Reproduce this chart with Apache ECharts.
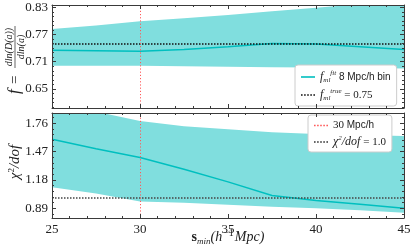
<!DOCTYPE html>
<html><head><meta charset="utf-8">
<script src="https://cdn.jsdelivr.net/npm/echarts@6/dist/echarts.min.js"></script>
<style>html,body{margin:0;padding:0;background:#fff}#c{width:415px;height:249px}</style>
</head><body><div id="c"></div>
<script>
// ---- data ----
const sMin = [25, 27.5, 30, 32.5, 35, 37.5, 40, 42.5, 45];
const fFit = [0.735, 0.734, 0.733, 0.737, 0.743, 0.750, 0.749, 0.743, 0.737];
const fUpper = [0.782, 0.790, 0.799, 0.806, 0.813, 0.821, 0.829, 0.837, 0.845];
const fLower = [0.701, 0.701, 0.701, 0.700, 0.699, 0.698, 0.697, 0.696, 0.695];
const chi2 = [1.596, 1.50, 1.41, 1.29, 1.16, 1.02, 0.97, 0.93, 0.89];
const chiUpper = [1.97, 1.88, 1.784, 1.73, 1.70, 1.67, 1.65, 1.64, 1.63];
const chiLower = [1.104, 1.04, 0.96, 0.945, 0.925, 0.905, 0.89, 0.87, 0.845];
const fTrue = 0.75;
const chiRef = 1.0;
const sCut = 30;
const xTicks = [25, 30, 35, 40, 45];
const fTicks = [0.65, 0.71, 0.77, 0.83];
const chiTicks = [0.89, 1.18, 1.47, 1.76];

// ---- helpers ----
const pairs = (ys) => sMin.map((x, i) => [x, ys[i]]);
function minorBetween(majors, nSplit, lo, hi) {
  const step = (majors[1] - majors[0]) / nSplit;
  const out = [];
  for (let v = majors[0] - step * Math.floor((majors[0] - lo) / step); v <= hi + 1e-9; v += step) {
    const r = +v.toFixed(4);
    if (r >= lo && r <= hi && !majors.some(m => Math.abs(m - r) < 1e-6)) out.push(r);
  }
  return out;
}
const FR = {min: 0.608, max: 0.835};
const CR = {min: 0.79, max: 1.866};
const fMinor = minorBetween(fTicks, 6, FR.min, FR.max);
const chiMinor = minorBetween(chiTicks, 5, CR.min, CR.max);

const BAND = '#80dede', LINE = '#00bfbf', AX = '#3a3a3a', RED = '#ff5a5a';
const serif = 'Liberation Serif';

function xAx(grid, pos, labels) {
  return {type: 'value', gridIndex: grid, position: pos, min: 25, max: 45, interval: 5, z: 10,
    axisLine: {show: true, lineStyle: {color: AX, width: 1}},
    axisTick: {show: true, inside: true, length: 4, lineStyle: {color: AX}},
    minorTick: {show: true, splitNumber: 5, length: 2, lineStyle: {color: AX}},
    splitLine: {show: false},
    axisLabel: {show: labels, color: '#222', fontFamily: serif, fontSize: 13, margin: 5,
      customValues: xTicks}};
}
function yAx(grid, pos, R, ticks, labels, minor) {
  return {type: 'value', gridIndex: grid, position: pos, min: R.min, max: R.max, z: 10,
    axisLine: {show: !minor, lineStyle: {color: AX, width: 1}},
    axisTick: {show: true, inside: true, length: minor ? 2 : 4, lineStyle: {color: AX},
      customValues: ticks},
    splitLine: {show: false},
    axisLabel: {show: labels, color: '#222', fontFamily: serif, fontSize: 13, margin: 4,
      customValues: ticks, formatter: v => v.toFixed(2)}};
}

// band polygon drawn through the axis scale (api.coord)
function bandSeries(xi, yi, hi, lo) {
  return {type: 'custom', xAxisIndex: xi, yAxisIndex: yi, clip: true, silent: true, z: 1,
    data: pairs(hi), encode: {x: 0, y: 1},
    renderItem: (params, api) => {
      if (params.dataIndex !== 0) return null;
      const pts = [];
      for (let i = 0; i < sMin.length; i++) pts.push(api.coord([sMin[i], hi[i]]));
      for (let i = sMin.length - 1; i >= 0; i--) pts.push(api.coord([sMin[i], lo[i]]));
      return {type: 'polygon', shape: {points: pts}, style: {fill: BAND}};
    }};
}

const dotted = [1.5, 1.5];
const redDot = [1.2, 2];
const chart = echarts.init(document.getElementById('c'), null, {renderer: 'canvas'});
const noSym = {showSymbol: false, symbol: 'none'};
const richLeg = {
  i: {fontFamily: serif, fontStyle: 'italic', fontSize: 12, color: '#222'},
  sub: {fontFamily: serif, fontStyle: 'italic', fontSize: 7, color: '#222', verticalAlign: 'bottom', lineHeight: 14},
  sup: {fontFamily: serif, fontStyle: 'italic', fontSize: 7, color: '#222', verticalAlign: 'top', lineHeight: 14},
  t: {fontFamily: 'Liberation Sans', fontSize: 10, color: '#222'},
  r: {fontFamily: serif, fontSize: 11, color: '#222'}
};
const legendNames = {
  fitT: '{i|f}{sub|ml}{sup|fit}{t| 8 Mpc/h bin}',
  trueT: '{i|f}{sub|ml}{sup|true}{r| = 0.75}',
  cut: '{r|30}{t| Mpc/h}',
  chiB: '{i|χ}{sup|2}{i|/dof}{r| = 1.0}'
};
const ICON_SOLID = 'path://M0,0h14v1.6h-14z';
const ICON_DOT = 'path://M0,0h1.6v1.6h-1.6zM3.1,0h1.6v1.6h-1.6zM6.2,0h1.6v1.6h-1.6zM9.3,0h1.6v1.6h-1.6zM12.4,0h1.6v1.6h-1.6z';
const legBase = {orient: 'vertical', backgroundColor: '#fff', borderColor: '#cccccc', borderWidth: 1,
  borderRadius: 3, padding: [5, 6, 4, 6], itemGap: 4, itemWidth: 14, itemHeight: 1.6,
  formatter: n => legendNames[n], textStyle: {rich: richLeg}, selectedMode: false};

chart.setOption({
  animation: false,
  backgroundColor: '#fff',
  grid: [
    {left: 52, right: 11, top: 5, height: 103},
    {left: 52, right: 11, top: 113, height: 105}
  ],
  xAxis: [xAx(0, 'bottom', false), xAx(0, 'top', false), xAx(1, 'bottom', true), xAx(1, 'top', false)],
  yAxis: [
    yAx(0, 'left', FR, fTicks, true, false), yAx(0, 'right', FR, fTicks, false, false),
    yAx(0, 'left', FR, fMinor, false, true), yAx(0, 'right', FR, fMinor, false, true),
    yAx(1, 'left', CR, chiTicks, true, false), yAx(1, 'right', CR, chiTicks, false, false),
    yAx(1, 'left', CR, chiMinor, false, true), yAx(1, 'right', CR, chiMinor, false, true)
  ],
  legend: [
    Object.assign({}, legBase, {data: [{name: 'fitT', icon: ICON_SOLID}, {name: 'trueT', icon: ICON_DOT}], left: 295, top: 65}),
    Object.assign({}, legBase, {data: [{name: 'cut', icon: ICON_DOT}, {name: 'chiB', icon: ICON_DOT}], left: 308, top: 115})
  ],
  series: [
    bandSeries(0, 0, fUpper, fLower),
    Object.assign({type: 'line', name: 'fitT', xAxisIndex: 0, yAxisIndex: 0, data: pairs(fFit),
      color: LINE, lineStyle: {color: LINE, width: 1.5}, z: 4}, noSym),
    Object.assign({type: 'line', name: 'trueT', xAxisIndex: 0, yAxisIndex: 0, data: [],
      color: '#111', lineStyle: {color: '#111', width: 1.5, type: dotted},
      markLine: {silent: true, symbol: 'none', label: {show: false},
        lineStyle: {color: '#111', width: 1.5, type: dotted}, data: [{yAxis: fTrue}]}, z: 5}, noSym),
    Object.assign({type: 'line', name: 'cutT', xAxisIndex: 0, yAxisIndex: 0, data: [],
      markLine: {silent: true, symbol: 'none', label: {show: false},
        lineStyle: {color: RED, width: 1, type: redDot}, data: [{xAxis: sCut}]}, z: 5}, noSym),
    bandSeries(2, 4, chiUpper, chiLower),
    Object.assign({type: 'line', name: 'chiLine', xAxisIndex: 2, yAxisIndex: 4, data: pairs(chi2),
      color: LINE, lineStyle: {color: LINE, width: 1.5}, z: 4}, noSym),
    Object.assign({type: 'line', name: 'chiB', xAxisIndex: 2, yAxisIndex: 4, data: [],
      color: '#333', lineStyle: {color: '#333', width: 1.5, type: dotted},
      markLine: {silent: true, symbol: 'none', label: {show: false},
        lineStyle: {color: '#444', width: 1.5, type: dotted}, data: [{yAxis: chiRef}]}, z: 5}, noSym),
    Object.assign({type: 'line', name: 'cut', xAxisIndex: 2, yAxisIndex: 4, data: [],
      color: RED, lineStyle: {color: RED, width: 1.5, type: redDot},
      markLine: {silent: true, symbol: 'none', label: {show: false},
        lineStyle: {color: RED, width: 1, type: redDot}, data: [{xAxis: sCut}]}, z: 5}, noSym)
  ],
  graphic: [
    {type: 'group', x: 15, y: 94, rotation: Math.PI / 2, children: [
      {type: 'text', x: 0, y: 0, style: {text: 'f', font: 'italic 17px "Liberation Serif"', fill: '#222',
        verticalAlign: 'middle', align: 'left'}},
      {type: 'text', x: 10, y: 0, style: {text: '=', font: '15px "Liberation Serif"', fill: '#222',
        verticalAlign: 'middle', align: 'left'}},
      {type: 'text', x: 47, y: -6, style: {text: 'dln(D(a))', font: 'italic 10px "Liberation Serif"', fill: '#222',
        verticalAlign: 'middle', align: 'center'}},
      {type: 'line', shape: {x1: 26, y1: 0, x2: 68, y2: 0}, style: {stroke: '#222', lineWidth: 0.7}},
      {type: 'text', x: 47, y: 6, style: {text: 'dln(a)', font: 'italic 10px "Liberation Serif"', fill: '#222',
        verticalAlign: 'middle', align: 'center'}}
    ]},
    {type: 'text', x: 15, y: 162, rotation: Math.PI / 2, style: {
      text: '{i|χ}{s|2}{i|/dof}', align: 'center', verticalAlign: 'middle',
      rich: {i: {fontFamily: serif, fontStyle: 'italic', fontSize: 15, fill: '#222', lineHeight: 16},
        s: {fontFamily: serif, fontSize: 9, fill: '#222', verticalAlign: 'top', lineHeight: 16}}}},
    {type: 'text', x: 228, y: 237, style: {
      text: '{b|s}{sub|min}{i|(h}{sup|−1}{i|Mpc)}', align: 'center', verticalAlign: 'middle',
      rich: {b: {fontFamily: serif, fontWeight: 'bold', fontSize: 14, fill: '#222', lineHeight: 18},
        i: {fontFamily: serif, fontStyle: 'italic', fontSize: 14, fill: '#222', lineHeight: 18},
        sub: {fontFamily: serif, fontStyle: 'italic', fontSize: 9, fill: '#222', verticalAlign: 'bottom', lineHeight: 18},
        sup: {fontFamily: serif, fontSize: 10, fill: '#222', verticalAlign: 'top', lineHeight: 18, padding: [0, 1, 0, 1]}}}}
  ]
});
</script></body></html>
